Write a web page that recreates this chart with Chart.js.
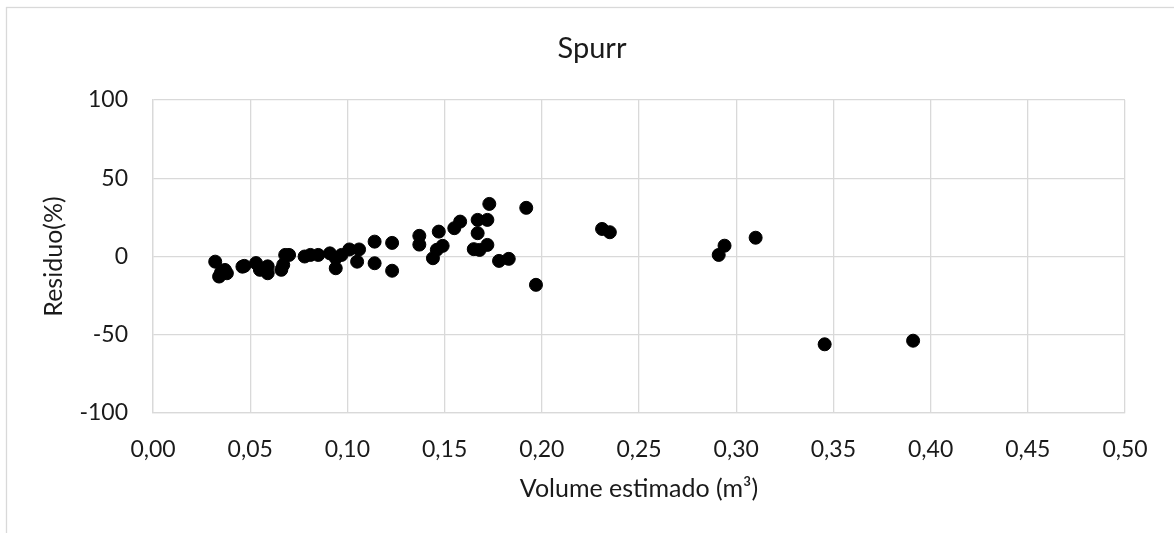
<!DOCTYPE html>
<html>
<head>
<meta charset="utf-8">
<script src="https://cdn.jsdelivr.net/npm/chart.js@4/dist/chart.umd.min.js"></script>
<style>
  html, body { margin: 0; padding: 0; background: #fff; }
  #wrap { width: 1174px; height: 533px; }
</style>
</head>
<body>
<div id="wrap"><canvas id="residuoChart" width="1174" height="533"></canvas></div>
<script>
// Spurr residuals: estimated volume (m³) vs residual (%)
const volumeEstimado = [
  0.032, 0.034, 0.035, 0.037, 0.038, 0.046, 0.047, 0.053, 0.055, 0.059,
  0.059, 0.066, 0.067, 0.068, 0.070, 0.078, 0.081, 0.085, 0.091, 0.094,
  0.094, 0.097, 0.101, 0.106, 0.105, 0.114, 0.114, 0.123, 0.123, 0.137,
  0.137, 0.147, 0.149, 0.146, 0.144, 0.155, 0.158, 0.167, 0.172, 0.173,
  0.167, 0.165, 0.168, 0.172, 0.178, 0.183, 0.192, 0.197, 0.231, 0.235,
  0.291, 0.294, 0.310, 0.3455, 0.391
];
const residuo = [
  -3.3, -12.8, -10.2, -8.6, -10.7, -6.5, -6.0, -4.2, -8.5, -10.7,
  -6.3, -8.5, -5.3, 1.0, 1.0, 0.0, 1.0, 1.0, 2.0, -1.0,
  -7.5, 1.0, 4.5, 4.5, -3.3, 9.5, -4.3, 8.7, -9.1, 13.2,
  7.6, 15.9, 6.8, 4.3, -1.1, 18.1, 22.3, 23.4, 23.4, 33.6,
  14.9, 4.7, 4.2, 7.4, -2.8, -1.5, 31.1, -18.1, 17.6, 15.5,
  1.0, 6.9, 12.0, -56.1, -53.8
];

const gridColor = '#d9d9d9';
const textColor = '#1a1a1a';
const fontFamily = 'Lato, "Open Sans", sans-serif';

// white background + outer chart frame (Excel style)
const frame = {
  id: 'frame',
  beforeDraw(chart) {
    const c = chart.ctx;
    c.save();
    c.fillStyle = '#fff';
    c.fillRect(0, 0, chart.width, chart.height);
    c.strokeStyle = gridColor;
    c.lineWidth = 1.3;
    c.strokeRect(6.5, 7.5, 1300, 700);
    c.restore();
  }
};

const ctx = document.getElementById('residuoChart').getContext('2d');
const residuoChart = new Chart(ctx, {
  type: 'scatter',
  data: {
    datasets: [{
      label: 'Spurr',
      data: volumeEstimado.map((v, i) => ({ x: v, y: residuo[i] })),
      backgroundColor: '#000',
      borderColor: '#000',
      pointRadius: 6.5,
      pointHoverRadius: 6.5
    }]
  },
  options: {
    responsive: false,
    animation: false,
    layout: { padding: { left: 10, right: 0, top: 0, bottom: 0 } },
    plugins: {
      legend: { display: false },
      tooltip: { enabled: false },
      title: {
        display: true,
        text: 'Spurr',
        color: textColor,
        font: { family: fontFamily, size: 29, weight: 'normal' },
        padding: { top: 31.5, bottom: 33.7 }
      }
    },
    scales: {
      x: {
        type: 'linear',
        min: 0,
        max: 0.5,
        afterFit: (s) => { s.height = 120; },
        ticks: {
          stepSize: 0.05,
          padding: 22.5,
          color: textColor,
          font: { family: fontFamily, size: 23 },
          callback: (v) => v.toFixed(2).replace('.', ',')
        },
        grid: { color: gridColor, lineWidth: 1.3, drawTicks: false },
        border: { display: true, color: gridColor, width: 1.3 },
        title: {
          display: true,
          text: 'Volume estimado (m³)',
          color: textColor,
          font: { family: fontFamily, size: 25 },
          padding: { top: 29, bottom: 29 }
        }
      },
      y: {
        type: 'linear',
        min: -100,
        max: 100,
        afterFit: (s) => { s.width = 143; },
        ticks: {
          stepSize: 50,
          padding: 25,
          color: textColor,
          font: { family: fontFamily, size: 23 }
        },
        grid: { color: gridColor, lineWidth: 1.3, drawTicks: false },
        border: { display: true, color: gridColor, width: 1.3 },
        title: {
          display: true,
          text: 'Residuo(%)',
          color: textColor,
          font: { family: fontFamily, size: 25 },
          padding: { top: 29, bottom: 29 }
        }
      },
      // empty right axis, only keeps the plot's right margin
      yRight: {
        type: 'linear',
        position: 'right',
        afterFit: (s) => { s.width = 49; },
        ticks: { display: false },
        grid: { display: false },
        border: { display: false }
      }
    }
  },
  plugins: [frame]
});
</script>
</body>
</html>
